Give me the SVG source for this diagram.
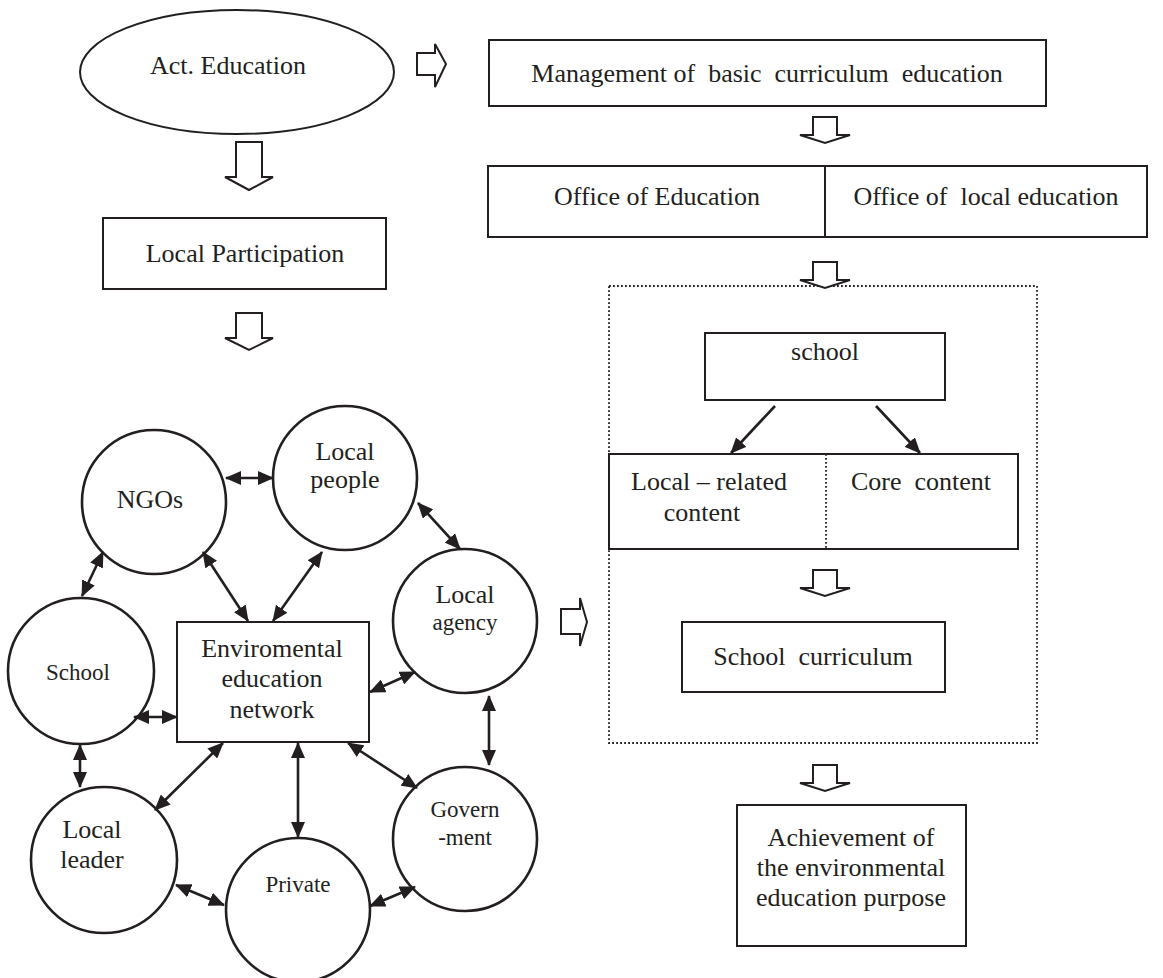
<svg xmlns="http://www.w3.org/2000/svg" width="1163" height="978" viewBox="0 0 1163 978">
<style>
text{font-family:"Liberation Serif","Times New Roman",serif;font-size:26px;fill:#231f20;text-anchor:middle}
.sm{font-size:23px}
.box{fill:#fff;stroke:#231f20;stroke-width:2}
.blk{fill:#fff;stroke:#231f20;stroke-width:2;stroke-linejoin:miter}
.dot{fill:none;stroke:#231f20;stroke-width:1.8;stroke-dasharray:1.8 2.2}
.c{fill:none;stroke:#231f20;stroke-width:2.6}
</style>
<defs>
<marker id="ah" markerUnits="userSpaceOnUse" markerWidth="16" markerHeight="14" refX="15" refY="7" orient="auto-start-reverse" viewBox="0 0 16 14">
<path d="M0,0 L16,7 L0,14 z" fill="#231f20"/>
</marker>
</defs>
<rect width="1163" height="978" fill="#fff"/>

<g id="act-education"><ellipse cx="237" cy="72" rx="157" ry="62" class="box"/><text x="228" y="74">Act. Education</text></g>
<g id="local-participation"><rect x="103" y="218" width="283" height="71" class="box"/><text x="245" y="262">Local Participation</text></g>
<g id="management"><rect x="489" y="40" width="557" height="66" class="box"/><text x="767" y="82" xml:space="preserve">Management of  basic  curriculum  education</text></g>
<g id="office"><rect x="488" y="166" width="659" height="71" class="box"/><line x1="825" y1="166" x2="825" y2="237" stroke="#231f20" stroke-width="2"/><text x="657" y="205">Office of Education</text><text x="986" y="205" xml:space="preserve">Office of  local education</text></g>
<g id="school-frame"><rect x="609" y="286" width="428" height="457" class="dot"/></g>
<g id="school-box"><rect x="705" y="333" width="240" height="67" class="box"/><text x="825" y="360">school</text></g>
<g id="content"><rect x="609" y="454" width="409" height="95" class="box"/><line x1="826" y1="454" x2="826" y2="549" class="dot"/><text x="709" y="490">Local – related</text><text x="702" y="521">content</text><text x="921" y="490" xml:space="preserve">Core  content</text></g>
<g id="school-curriculum"><rect x="682" y="622" width="263" height="70" class="box"/><text x="813" y="665" xml:space="preserve">School  curriculum</text></g>
<g id="achievement"><rect x="737" y="805" width="229" height="141" class="box"/><text x="851" y="846">Achievement of</text><text x="851" y="876">the environmental</text><text x="851" y="906">education purpose</text></g>

<g id="ngos"><circle cx="154" cy="502" r="72" class="c"/><text x="150" y="508">NGOs</text></g>
<g id="local-people"><circle cx="345" cy="478" r="72" class="c"/><text x="345" y="460">Local</text><text x="345" y="488">people</text></g>
<g id="local-agency"><circle cx="465" cy="621" r="72" class="c"/><text x="465" y="603">Local</text><text x="465" y="630" class="sm">agency</text></g>
<g id="school-circle"><circle cx="81" cy="671" r="73" class="c"/><text x="78" y="680" class="sm">School</text></g>
<g id="network"><rect x="177" y="622" width="192" height="120" class="box"/><text x="272" y="657">Enviromental</text><text x="272" y="687">education</text><text x="272" y="718">network</text></g>
<g id="government"><circle cx="465" cy="839" r="72" class="c"/><text x="465" y="817" class="sm">Govern</text><text x="465" y="845" class="sm">-ment</text></g>
<g id="local-leader"><circle cx="104" cy="860" r="73" class="c"/><text x="92" y="838">Local</text><text x="92" y="868">leader</text></g>
<g id="private"><circle cx="298" cy="910" r="72" class="c"/><text x="298" y="892" class="sm">Private</text></g>

<g id="connectors" stroke="#231f20" stroke-width="2.6" fill="none">
<polygon class="blk" points="236,142 262,142 262,177 273,177 249,190 225,177 236,177"/>
<polygon class="blk" points="236,313 262,313 262,338 273,338 249,350 225,338 236,338"/>
<polygon class="blk" points="417,53 435,53 435,44 446,64 435,87 435,75 417,75"/>
<polygon class="blk" points="561,609 580,609 580,598 587,622 580,646 580,634 561,634"/>
<polygon class="blk" points="813,117 837,117 837,135 850,135 825,143 800,135 813,135"/>
<polygon class="blk" points="813,262 837,262 837,280 850,280 825,288 800,280 813,280"/>
<polygon class="blk" points="813,570 837,570 837,588 850,588 825,596 800,588 813,588"/>
<polygon class="blk" points="813,765 837,765 837,783 850,783 825,791 800,783 813,783"/>

<line x1="226" y1="478" x2="273" y2="478" marker-start="url(#ah)" marker-end="url(#ah)"/>
<line x1="103" y1="552" x2="82" y2="596" marker-start="url(#ah)" marker-end="url(#ah)"/>
<line x1="203" y1="552" x2="248" y2="621" marker-start="url(#ah)" marker-end="url(#ah)"/>
<line x1="322" y1="552" x2="273" y2="621" marker-start="url(#ah)" marker-end="url(#ah)"/>
<line x1="418" y1="503" x2="460" y2="549" marker-start="url(#ah)" marker-end="url(#ah)"/>
<line x1="370" y1="692" x2="415" y2="672" marker-start="url(#ah)" marker-end="url(#ah)"/>
<line x1="134" y1="717" x2="177" y2="717" marker-start="url(#ah)" marker-end="url(#ah)"/>
<line x1="489" y1="696" x2="489" y2="765" marker-start="url(#ah)" marker-end="url(#ah)"/>
<line x1="348" y1="743" x2="417" y2="788" marker-start="url(#ah)" marker-end="url(#ah)"/>
<line x1="298" y1="743" x2="298" y2="837" marker-start="url(#ah)" marker-end="url(#ah)"/>
<line x1="223" y1="743" x2="155" y2="810" marker-start="url(#ah)" marker-end="url(#ah)"/>
<line x1="80" y1="745" x2="80" y2="787" marker-start="url(#ah)" marker-end="url(#ah)"/>
<line x1="176" y1="885" x2="224" y2="905" marker-start="url(#ah)" marker-end="url(#ah)"/>
<line x1="370" y1="906" x2="415" y2="887" marker-start="url(#ah)" marker-end="url(#ah)"/>
<line x1="775" y1="406" x2="731" y2="453" marker-end="url(#ah)"/>
<line x1="876" y1="406" x2="920" y2="453" marker-end="url(#ah)"/>
</g>
</svg>
